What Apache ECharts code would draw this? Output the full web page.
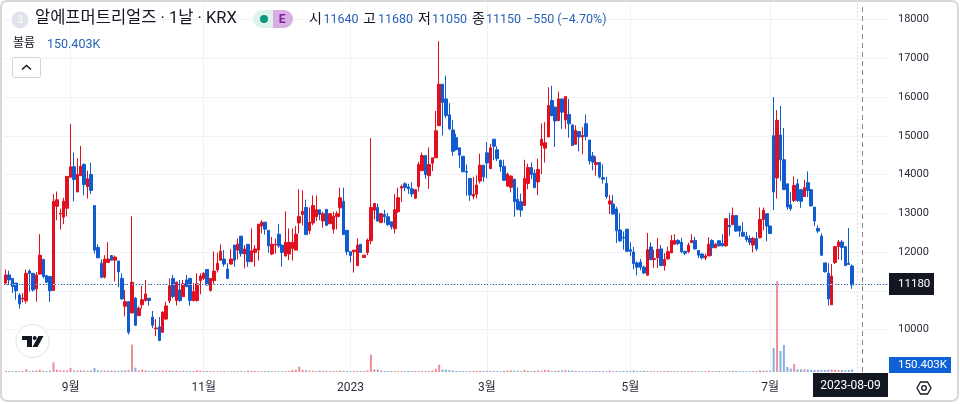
<!DOCTYPE html>
<html>
<head>
<meta charset="utf-8">
<title>알에프머트리얼즈</title>
<script src="https://cdn.jsdelivr.net/npm/echarts@6/dist/echarts.min.js"></script>
<style>
  html, body { margin: 0; padding: 0; background: #fff; }
  #chart { width: 960px; height: 404px; }
</style>
</head>
<body>
<div id="chart"></div>
<script>
const opens = [
  11200,11410,11320,11200,10890,10790,10740,11510,11450,11050,
  11430,11810,11390,11370,11010,13180,12980,12900,13130,13930,
  14200,13550,13970,14260,13690,14000,13200,12120,11710,11350,
  11730,11910,11790,11770,11320,10600,10720,10430,10810,10360,
  10640,10750,10810,10320,10020,10070,9930,10270,10740,11320,
  10750,11020,10850,11280,11320,10750,10750,11260,11320,11550,
  11010,11260,11540,11790,11820,11560,11690,12180,12050,12410,
  11950,12200,11750,11990,12050,12670,12770,12560,11950,12180,
  12460,12180,11900,11950,12090,12050,12750,12970,13150,12550,
  12750,12910,13090,12800,13100,12730,12590,12910,13140,13310,
  12560,12010,12010,11650,12200,11860,11990,12290,13080,13150,
  12760,12970,12910,12780,12600,13040,13650,13760,13680,13630,
  13390,13690,14100,14490,13970,14290,14430,15260,16330,15950,
  15540,15150,14950,14690,14470,14080,13900,13440,13490,13830,
  14240,14560,14150,14910,14640,14370,14210,13700,13670,13880,
  13360,13300,13200,13770,14180,14030,13810,14750,14680,14970,
  15910,15740,15390,15950,15410,15550,15280,14780,15110,14970,
  15310,14890,14480,14260,14310,13920,13770,13240,13240,13110,
  12570,12380,12590,12060,12000,11720,11740,11610,11400,12130,
  11810,11850,12080,11650,11820,11980,12200,12300,12250,12020,
  12010,12240,12300,12040,11950,11850,11900,12300,12110,12290,
  12220,12160,12690,12710,12940,12670,12510,12410,12350,12180,
  12350,12370,12840,12990,12670,15000,13910,15020,14380,13760,
  13220,13330,13760,13610,13430,13790,13610,13160,12610,12410,
  11720,11450,10640,11730,12140,12260,12140,11710,11640
]
const closes = [
  11410,11280,11110,11000,10660,10810,11450,11450,11020,11410,
  11920,11370,11220,11000,13310,13350,13000,13310,13950,14200,
  13870,14000,14210,13740,13890,13590,12050,11850,11350,11820,
  11820,11790,11870,11490,10790,10720,9930,11220,10110,10550,
  10770,10920,10750,10110,10040,9720,10450,10610,11130,10850,
  11220,10750,11180,11110,10750,10980,11180,11380,11450,11150,
  11320,11510,11710,12020,11690,11320,11820,11790,12200,11960,
  12080,11750,12030,12080,12720,12770,12590,12160,12200,12200,
  12160,11990,12250,12250,12250,12460,12920,13050,12450,12770,
  13200,13090,12970,12990,12690,12990,12920,12990,13400,12450,
  12010,11910,12050,12180,11990,11920,12310,13150,13250,12800,
  12990,12910,12710,12650,13090,13400,13690,13660,13630,13500,
  13610,14260,14490,14000,14260,14430,15130,16330,15860,15520,
  15180,14600,14640,14500,14070,14060,13470,13490,13730,14240,
  13940,14300,14690,14730,14410,14200,13850,14010,13960,13300,
  13100,13080,13900,14180,14000,13660,14130,14910,14820,15780,
  15520,15380,15950,15610,16010,15310,14750,15140,14970,15010,
  14980,14350,14320,14310,13940,13880,13430,13320,12980,12550,
  12290,12360,12020,12020,11700,11610,11610,11460,12060,11800,
  11830,12070,11650,11810,12010,12300,12300,12220,12010,11970,
  12180,12300,12080,11920,11850,11900,12200,12110,12200,12160,
  12160,12860,12650,12950,12540,12540,12410,12320,12250,12350,
  12080,12840,13080,12670,12480,13550,15400,14380,13610,13160,
  13120,13720,13330,13310,13660,13590,13190,12800,12540,11920,
  11490,10790,11380,12140,12260,12120,11650,11680,11150
]
const highs = [
  11550,11520,11320,11200,10940,10940,11550,11550,11450,11490,
  12460,11810,11410,11370,13500,13560,13120,13400,13950,15300,
  14570,14420,14740,14290,14100,14300,13200,12200,11810,11920,
  12250,11910,11910,11770,11450,11020,10720,12920,10840,10600,
  11130,11280,10810,10480,10270,10320,10470,10720,11320,11410,
  11240,11280,11280,11410,11320,11200,11450,11450,11480,11550,
  11320,12020,11980,12200,12050,11710,12080,12180,12350,12410,
  12180,12200,12610,12180,12720,12820,12770,12560,12390,12350,
  12720,12180,13050,12610,12610,12670,13620,13590,13350,13150,
  13460,13460,13090,13040,13100,12990,13040,13050,13660,13660,
  12560,12010,12050,12350,12200,11920,12350,14940,13270,13250,
  13010,13090,13010,12780,13500,13660,13740,13800,13760,13800,
  13610,14330,14570,14490,14700,14430,15640,17440,16330,16550,
  15840,15410,15050,14690,14470,14260,13900,13940,13980,14540,
  14240,14840,14790,14910,14730,14370,14380,14050,13980,13880,
  13670,13510,14380,14280,14310,14130,14410,15320,15350,16250,
  16290,15740,16140,15950,16010,15950,15280,15270,15110,15220,
  15550,14890,14580,14470,14310,14260,13940,13470,13470,13170,
  13000,12530,12590,12250,12130,11760,11820,11650,12490,12250,
  12060,12360,12180,11970,12140,12440,12460,12330,12370,12020,
  12240,12460,12390,12040,11960,11960,12380,12330,12240,12300,
  12460,12860,13010,13150,12940,12670,12770,12520,12430,12390,
  12520,13150,13150,12990,12690,16000,15660,15770,15200,13760,
  13550,13950,13890,13610,13860,14080,13610,13160,12690,12480,
  11720,11710,11690,12140,12310,12310,12140,12620,11680
]
const lows = [
  11150,11150,10940,10770,10540,10700,10670,10980,10980,10720,
  11410,11320,11200,10710,11010,12820,12580,12720,12920,13930,
  13310,13550,13970,13460,13380,13500,11960,11850,11320,11320,
  11730,11780,11240,11090,10770,10340,9870,10410,10100,10340,
  10540,10720,10620,10040,9830,9700,9930,10250,10680,10810,
  10620,10720,10840,11090,10620,10720,10720,10910,11280,11130,
  10980,11150,11470,11790,11620,11300,11670,11620,11810,11880,
  11580,11620,11750,11620,11780,12480,12450,11980,11920,11960,
  12110,11620,11880,11790,11780,12050,12480,12690,12440,12460,
  12690,12800,12820,12630,12670,12720,12480,12580,12910,12440,
  11920,11730,11470,11650,11980,11850,11920,12200,12840,12780,
  12750,12750,12670,12580,12480,13010,13290,13570,13500,13420,
  13370,13560,14100,13890,13630,14090,14430,15260,15010,15460,
  15150,14480,14620,14170,14070,13450,13320,13360,13380,13770,
  13810,13900,14150,14370,14350,14070,13850,13680,13540,12910,
  13080,12910,13200,13620,13880,13660,13470,14010,14310,14970,
  15500,14710,15390,15180,15180,14950,14750,14780,14600,14520,
  14880,14260,14110,13970,13900,13770,13370,12980,12960,12230,
  12260,12060,12000,11890,11550,11400,11530,11430,11400,11800,
  11590,11590,11640,11520,11810,11970,12200,12180,11970,11920,
  11970,12240,12070,11840,11810,11790,11900,11900,12100,12140,
  12140,12140,12420,12690,12520,12390,12390,12260,12180,11990,
  12030,12350,12560,12280,12460,13080,13380,13830,13610,13090,
  13060,13290,13290,13140,13430,13420,13180,12670,12490,11900,
  11470,10620,10640,11690,11810,11790,11650,11680,11050
]
// 거래량, 단위 K
const volumes = [
  70,60,50,60,50,60,160,60,70,100,
  140,80,60,80,580,140,100,100,100,240,
  90,90,100,90,80,90,240,100,90,90,
  80,80,80,80,90,100,110,1640,260,100,
  140,100,80,90,80,70,90,80,100,70,
  90,70,80,60,70,60,100,80,60,60,
  60,50,50,50,50,50,50,60,60,50,
  50,90,70,60,60,50,60,60,50,50,
  50,50,60,60,120,140,320,120,110,80,
  70,60,90,70,70,60,70,70,90,70,
  60,50,60,70,60,60,90,1040,160,160,
  100,60,60,60,60,50,60,60,70,60,
  60,60,70,60,70,90,200,440,150,130,
  120,90,60,70,60,50,60,70,70,70,
  70,70,60,70,60,50,70,90,100,80,
  70,50,120,70,60,70,90,70,120,130,
  60,70,80,90,120,100,90,70,60,60,
  60,60,60,70,60,60,50,90,60,70,
  50,60,70,60,90,70,60,70,70,60,
  50,60,50,60,70,60,60,50,50,50,
  60,70,50,50,50,50,80,50,60,60,
  50,60,60,80,60,50,50,50,50,60,
  60,100,90,80,90,1440,5440,1260,1620,300,
  210,480,160,160,160,160,130,120,120,130,
  120,140,150,130,120,120,110,120,150.403
]
const priceTicks = [18000,17000,16000,15000,14000,13000,12000,11000,10000]
const tickLabels = ['9월','11월','2023','3월','5월','7월']
const tickIndex = [19,58,101,141,183,224]
const lastPrice = 11180
const crossIndex = 251
const emptySlots = 10

const UP = '#e0101f'
const DOWN = '#0f5bcf'
const UP_VOL = '#ee8c97'
const DOWN_VOL = '#88aedd'
const FONT = 'Roboto, "Noto Sans CJK KR", sans-serif'
const GRID = '#f0f2f5'

let categories = opens.map(() => '')
for (let i = 0; i < emptySlots; i++) categories.push('')
tickIndex.forEach((idx, i) => { categories[idx] = tickLabels[i] })

let candles = opens.map((o, i) => [o, closes[i], lows[i], highs[i]])
let volumeBars = volumes.map((v, i) => ({
  value: v,
  itemStyle: { color: closes[i] >= opens[i] ? UP_VOL : DOWN_VOL }
}))

function txt(x, y, text, size, color, extra) {
  return {
    type: 'text', z: 110, x: x, y: y,
    style: Object.assign({
      text: text, fontSize: size, fontFamily: FONT, fill: color, verticalAlign: 'middle'
    }, extra || {})
  }
}

let graphics = [
  // 바깥 테두리
  { type: 'rect', z: 120, shape: { x: 1, y: 1, width: 957, height: 400, r: 6 },
    style: { fill: 'none', stroke: '#d8d8d8', lineWidth: 2 } },
  // 헤더
  { type: 'circle', z: 100, shape: { cx: 20, cy: 20, r: 8.5 }, style: { fill: '#e0e3eb' } },
  txt(20, 20.5, '3', 10, '#ffffff', { align: 'center' }),
  txt(35, 19, '알에프머트리얼즈 · 1날 · KRX', 16.5, '#131722'),
  { type: 'rect', z: 100, shape: { x: 253, y: 10, width: 30, height: 18, r: 9 }, style: { fill: '#dff2ee' } },
  { type: 'rect', z: 101, shape: { x: 273, y: 10, width: 20, height: 18, r: [0, 9, 9, 0] }, style: { fill: '#d9aee3' } },
  { type: 'circle', z: 102, shape: { cx: 264, cy: 19, r: 4 }, style: { fill: '#089981' } },
  txt(282, 19.5, 'E', 12, '#7b1fa2', { align: 'center', fontWeight: 'bold' }),
  txt(309, 19, '시', 14, '#131722'),
  txt(323.5, 19.5, '11640', 12.5, '#2962b8'),
  txt(363, 19, '고', 14, '#131722'),
  txt(378, 19.5, '11680', 12.5, '#2962b8'),
  txt(418, 19, '저', 14, '#131722'),
  txt(432, 19.5, '11050', 12.5, '#2962b8'),
  txt(472, 19, '종', 14, '#131722'),
  txt(486, 19.5, '11150', 12.5, '#2962b8'),
  txt(526, 19.5, '−550 (−4.70%)', 12.5, '#2962b8'),
  txt(13, 44, '볼륨', 12, '#131722'),
  txt(47, 44.5, '150.403K', 12.5, '#2962b8'),
  // 접기 버튼
  { type: 'rect', z: 100, shape: { x: 12.5, y: 57.5, width: 28, height: 20, r: 2 },
    style: { fill: '#fff', stroke: '#d1d4dc', lineWidth: 1 } },
  { type: 'polyline', z: 101, shape: { points: [[22, 69.5], [26.5, 65.5], [31, 69.5]] },
    style: { fill: 'none', stroke: '#131722', lineWidth: 1.5 } },
  // 로고
  { type: 'circle', z: 100, shape: { cx: 32.5, cy: 341, r: 16.5 }, style: { fill: '#fff', stroke: '#e4e4e4', lineWidth: 1 } },
  { type: 'polygon', z: 101, shape: { points: [[22, 336], [32, 336], [32, 347], [27, 347], [27, 340], [22, 340]] }, style: { fill: '#131722' } },
  { type: 'circle', z: 101, shape: { cx: 34.7, cy: 338, r: 2 }, style: { fill: '#131722' } },
  { type: 'polygon', z: 101, shape: { points: [[38.5, 336], [43.5, 336], [37.5, 347], [32.5, 347]] }, style: { fill: '#131722' } },
  // 오른쪽 라벨
  { type: 'rect', z: 100, shape: { x: 889, y: 273, width: 45, height: 22 }, style: { fill: '#131722' } },
  txt(898, 284, '11180', 11.5, '#ffffff'),
  { type: 'rect', z: 100, shape: { x: 889, y: 357, width: 62, height: 16 }, style: { fill: '#0f62d6' } },
  txt(898, 365.5, '150.403K', 11.5, '#ffffff'),
  { type: 'rect', z: 100, shape: { x: 813, y: 373, width: 75, height: 24 }, style: { fill: '#131722' } },
  txt(850.5, 385.5, '2023-08-09', 12, '#ffffff', { align: 'center' }),
  // 설정 아이콘
  { type: 'polygon', z: 100, shape: { points: [[917, 388], [920.5, 382], [927.5, 382], [931, 388], [927.5, 394], [920.5, 394]] },
    style: { fill: 'none', stroke: '#131722', lineWidth: 1.3 } },
  { type: 'circle', z: 100, shape: { cx: 924, cy: 388, r: 2.3 }, style: { fill: 'none', stroke: '#131722', lineWidth: 1.3 } },
  // 점선 세로선
  { type: 'line', z: 1, shape: { x1: 857.5, y1: 3, x2: 857.5, y2: 372 },
    style: { stroke: '#dfe2e6', lineWidth: 1, lineDash: [2, 2] } }
]

let chart = echarts.init(document.getElementById('chart'), null, { renderer: 'canvas' })

chart.setOption({
  animation: false,
  backgroundColor: '#ffffff',
  textStyle: { fontFamily: FONT },
  grid: [
    { left: 4, right: 72, top: 19.5, height: 348.8 },
    { left: 4, right: 72, top: 3, bottom: 32 }
  ],
  xAxis: [
    { type: 'category', gridIndex: 0, data: categories, show: false },
    {
      type: 'category',
      gridIndex: 1,
      data: categories,
      axisLine: { show: false },
      axisTick: { show: false },
      splitLine: { show: false },
      axisLabel: {
        interval: (i, v) => v !== '',
        color: '#2a2e39',
        fontSize: 12,
        margin: 10,
        fontFamily: FONT
      }
    }
  ],
  yAxis: [
    {
      type: 'value',
      gridIndex: 0,
      position: 'right',
      min: 9000,
      max: 18000,
      interval: 1000,
      axisLine: { show: false },
      axisTick: { show: false },
      splitLine: { show: true, showMinLine: false, lineStyle: { color: GRID, width: 1 } },
      axisLabel: {
        margin: 10,
        color: '#2a2e39',
        fontSize: 11,
        fontFamily: FONT,
        formatter: v => priceTicks.indexOf(v) >= 0 ? String(v) : ''
      }
    },
    {
      type: 'value',
      gridIndex: 1,
      min: 0,
      max: 22140,
      show: false
    }
  ],
  series: [
    {
      name: '볼륨',
      type: 'bar',
      xAxisIndex: 1,
      yAxisIndex: 1,
      barWidth: 2,
      z: 2,
      data: volumeBars,
      markLine: {
        silent: true,
        z: 1,
        symbol: 'none',
        label: { show: false },
        lineStyle: { color: GRID, width: 1, type: 'solid' },
        data: tickIndex.map(idx => ({ xAxis: idx })).concat([
          { xAxis: crossIndex, lineStyle: { color: '#868a92', width: 1, type: [5, 4] } }
        ])
      }
    },
    {
      name: '알에프머트리얼즈',
      type: 'candlestick',
      xAxisIndex: 0,
      yAxisIndex: 0,
      barWidth: 3,
      clip: false,
      z: 3,
      data: candles,
      itemStyle: {
        color: UP,
        color0: DOWN,
        borderColor: UP,
        borderColor0: DOWN,
        borderWidth: 1
      },
      markLine: {
        silent: true,
        symbol: 'none',
        label: { show: false },
        data: [
          { yAxis: lastPrice, lineStyle: { color: '#c6cad2', width: 1, type: [4, 4] } },
          { yAxis: lastPrice, lineStyle: { color: '#1a5fc0', width: 1, type: [1, 2] } }
        ]
      }
    }
  ],
  graphic: graphics
})

window.addEventListener('resize', function() {
  chart.resize()
})
</script>
</body>
</html>
